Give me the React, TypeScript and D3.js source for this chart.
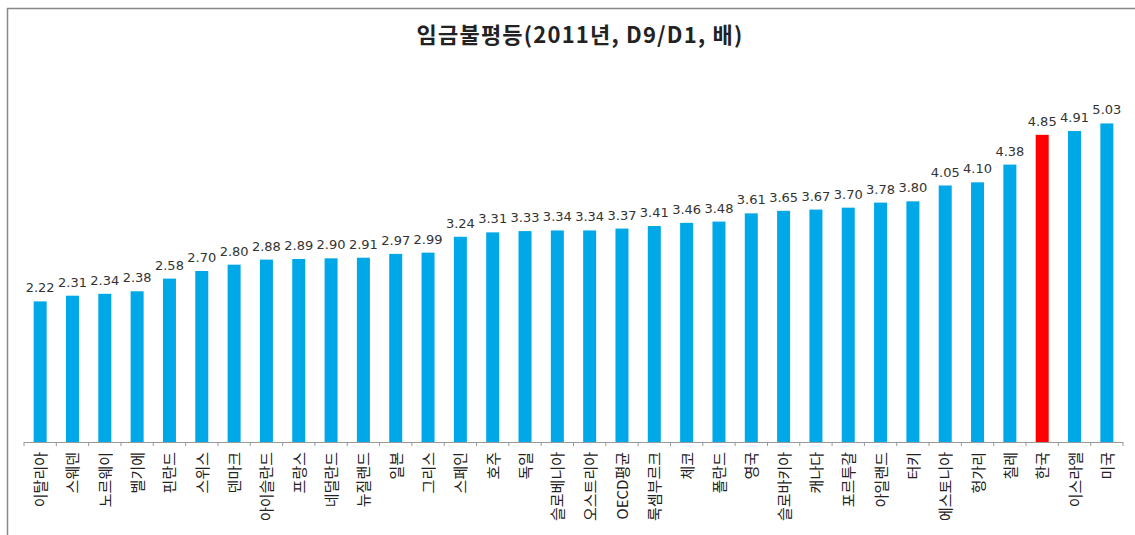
import React from "react";
import * as d3 from "d3";

const countries = ["이탈리아","스웨덴","노르웨이","벨기에","핀란드","스위스","덴마크","아이슬란드","프랑스","네덜란드","뉴질랜드","일본","그리스","스페인","호주","독일","슬로베니아","오스트리아","OECD평균","룩셈부르크","체코","폴란드","영국","슬로바키아","캐나다","포르투갈","아일랜드","터키","에스토니아","헝가리","칠레","한국","이스라엘","미국"];
const values = [2.22,2.31,2.34,2.38,2.58,2.70,2.80,2.88,2.89,2.90,2.91,2.97,2.99,3.24,3.31,3.33,3.34,3.34,3.37,3.41,3.46,3.48,3.61,3.65,3.67,3.70,3.78,3.80,4.05,4.10,4.38,4.85,4.91,5.03];
const highlight = "한국";
const title = "임금불평등(2011년, D9/D1, 배)";

const W = 1135, H = 535;
const FONT = "'Noto Sans CJK KR','Noto Sans',sans-serif";
const NUMFONT = "'DejaVu Sans',sans-serif";

export default function App() {
  const x = d3.scaleBand<string>().domain(countries).range([24, 1123]).paddingInner(0.6).paddingOuter(0.3);
  const y = d3.scaleLinear().domain([0, 6]).range([442, 62]);
  const bw = 13;
  const cxOf = (c: string) => (x(c) as number) + x.bandwidth() / 2;
  const edges = countries.map(c => cxOf(c) - x.step() / 2).concat([cxOf(countries[countries.length - 1]) + x.step() / 2]);
  return (
    <svg width={W} height={H} style={{ position: "absolute", left: 0, top: 0, background: "#fff" }}>
      <rect x={0} y={0} width={W} height={H} fill="#fff" />
      <line x1={7} y1={8.5} x2={W} y2={8.5} stroke="#888" strokeWidth={1.5} />
      <line x1={7.5} y1={8} x2={7.5} y2={H} stroke="#888" strokeWidth={1.5} />
      <text x={580} y={43} textAnchor="middle" fontFamily={FONT} fontWeight="bold" fontSize={22} letterSpacing={1.2} fill="#222">{title}</text>
      {countries.map((c, i) => {
        const cx = cxOf(c);
        return (
          <g key={c}>
            <rect x={cx - bw / 2} y={y(values[i])} width={bw} height={y(0) - y(values[i])} fill={c === highlight ? "#ff0000" : "#00a8e8"} />
            <text x={cx} y={y(values[i]) - 9} textAnchor="middle" fontFamily={NUMFONT} fontSize={13} fill="#333">{values[i].toFixed(2)}</text>
            <text transform={`translate(${cx + 6},452) rotate(-90)`} textAnchor="end" fontFamily={FONT} fontSize={15} fill="#222">{c}</text>
          </g>
        );
      })}
      <line x1={edges[0]} y1={442.5} x2={edges[edges.length - 1]} y2={442.5} stroke="#999" strokeWidth={1} />
      {edges.map((e, i) => (
        <line key={i} x1={e} y1={442} x2={e} y2={446} stroke="#999" strokeWidth={1} />
      ))}
    </svg>
  );
}
